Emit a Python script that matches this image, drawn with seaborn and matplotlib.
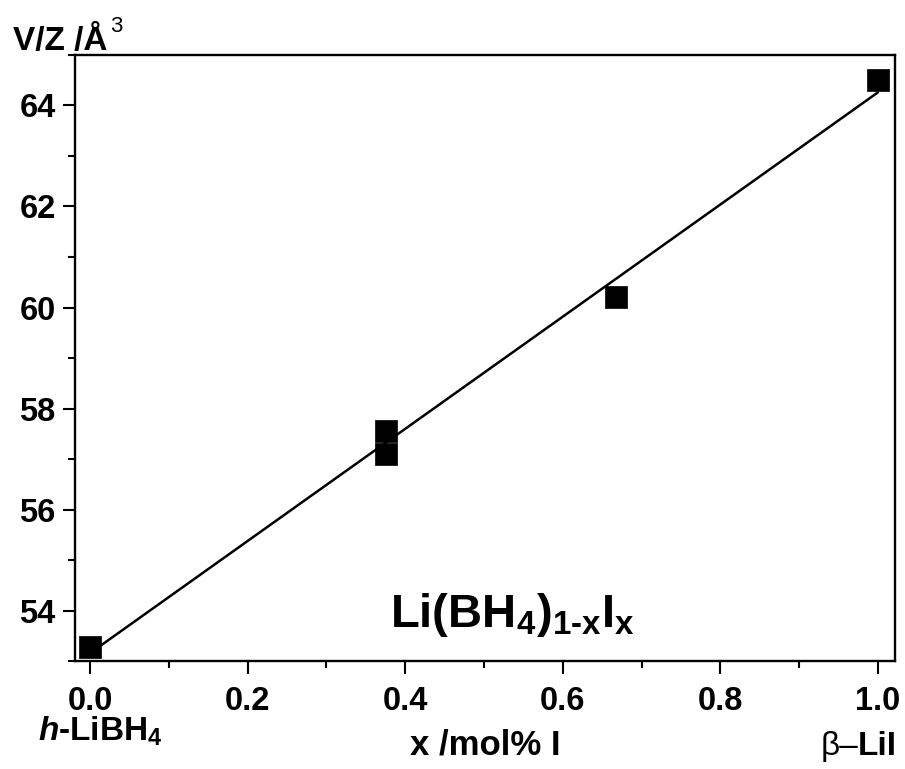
import matplotlib
matplotlib.use("Agg")
import matplotlib.pyplot as plt
import seaborn as sns
import pandas as pd
from matplotlib.ticker import MultipleLocator

# data
x_frac = [0.0, 0.375, 0.375, 0.667, 1.0]
vz = [53.27, 57.55, 57.10, 60.20, 64.50]
x_ticks = [0.0, 0.2, 0.4, 0.6, 0.8, 1.0]
y_ticks = [54, 56, 58, 60, 62, 64]

df = pd.DataFrame({"x": x_frac, "vz": vz})

sns.set_theme(style="ticks")
plt.rcParams["font.family"] = ["Liberation Sans", "DejaVu Sans"]
plt.rcParams["font.weight"] = "bold"
plt.rcParams["text.color"] = "black"
plt.rcParams["axes.labelcolor"] = "black"
plt.rcParams["mathtext.fontset"] = "custom"
plt.rcParams["mathtext.rm"] = "Liberation Sans:bold"
plt.rcParams["mathtext.bf"] = "Liberation Sans:bold"
plt.rcParams["mathtext.it"] = "Liberation Sans:bold:italic"

fig = plt.figure(figsize=(9.05, 7.69), dpi=100)
ax = fig.add_axes([0.0829, 0.1404, 0.9061, 0.7881])

sns.regplot(data=df, x="x", y="vz", ax=ax, ci=None, marker="s", color="black",
            scatter_kws=dict(s=250, edgecolors="black", linewidths=0.5, alpha=1, zorder=3),
            line_kws=dict(lw=1.8, zorder=2))

ax.set_xlim(-0.019, 1.0216)
ax.set_ylim(53, 65)
ax.set_xticks(x_ticks)
ax.set_xticklabels([f"{v:.1f}" for v in x_ticks])
ax.set_yticks(y_ticks)
ax.xaxis.set_minor_locator(MultipleLocator(0.1))
ax.yaxis.set_minor_locator(MultipleLocator(1))

for s in ax.spines.values():
    s.set_linewidth(1.7)
    s.set_color("black")
    s.set_visible(True)

ax.tick_params(axis="both", which="major", direction="out", length=9, width=1.5,
               labelsize=23.5, color="black", labelcolor="black", pad=5)
ax.tick_params(axis="both", which="minor", direction="out", length=5, width=1.5,
               color="black")
ax.tick_params(axis="x", which="major", pad=9)
for lab in ax.get_xticklabels() + ax.get_yticklabels():
    lab.set_fontweight("bold")

ax.set_xlabel("x /mol% I", fontsize=25, fontweight="bold", labelpad=8)
ax.set_ylabel("")

fig.text(13 / 905, 1 - 50 / 769, "V/Z /Å", fontsize=24, fontweight="bold",
         ha="left", va="baseline")
fig.text(110 / 905, 1 - 32 / 769, "3", fontsize=16, fontweight="normal",
         ha="left", va="baseline")

fig.text(38 / 905, 1 - 741 / 769, "$h$-LiBH$_4$", fontsize=24, fontweight="bold",
         ha="left", va="baseline")

t = fig.text(897 / 905, 1 - 755 / 769, "LiI", fontsize=24, fontweight="bold",
             ha="right", va="baseline")
ax.annotate("β–", xy=(0, 0), xycoords=t, ha="right", va="bottom",
            fontsize=24, fontweight="normal")

ax.text(0.384, 0.056, "Li(BH$_4$)$_{\\text{1-x}}$I$_\\text{x}$", transform=ax.transAxes,
        fontsize=34, fontweight="bold", ha="left", va="baseline")

fig.savefig("out.png", dpi=100, facecolor="white")
